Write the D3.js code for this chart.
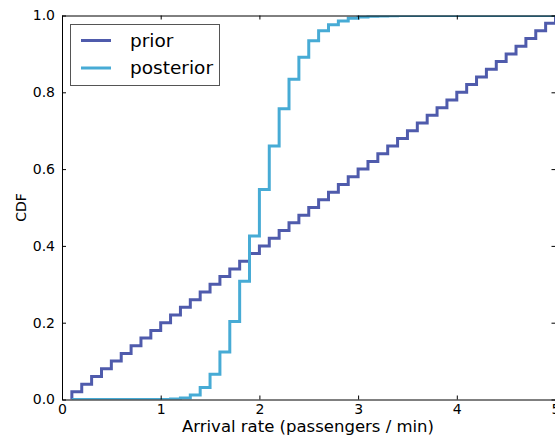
<!DOCTYPE html>
<html>
<head>
<meta charset="utf-8">
<script src="https://cdn.jsdelivr.net/npm/d3@7"></script>
<style>
html,body{margin:0;padding:0;background:#fff;}
svg{display:block;}
text{font-family:"DejaVu Sans",sans-serif;fill:#000;}
</style>
</head>
<body>
<svg id="chart" width="555" height="439"></svg>
<script>
// Data
const xs = [0.1,0.2,0.3,0.4,0.5,0.6,0.7,0.8,0.9,1.0,1.1,1.2,1.3,1.4,1.5,1.6,1.7,1.8,1.9,2.0,
            2.1,2.2,2.3,2.4,2.5,2.6,2.7,2.8,2.9,3.0,3.1,3.2,3.3,3.4,3.5,3.6,3.7,3.8,3.9,4.0,
            4.1,4.2,4.3,4.4,4.5,4.6,4.7,4.8,4.9,5.0];
const priorCdf = [0.02,0.04,0.06,0.08,0.10,0.12,0.14,0.16,0.18,0.20,0.22,0.24,0.26,0.28,0.30,0.32,0.34,0.36,0.38,0.40,
                  0.42,0.44,0.46,0.48,0.50,0.52,0.54,0.56,0.58,0.60,0.62,0.64,0.66,0.68,0.70,0.72,0.74,0.76,0.78,0.80,
                  0.82,0.84,0.86,0.88,0.90,0.92,0.94,0.96,0.98,1.00];
const posteriorCdf = [0,0,0,0,0,0,0,0,0,0.0003,0.001,0.004,0.012,0.031,0.066,0.124,0.203,0.308,0.426,0.547,
                      0.660,0.757,0.834,0.891,0.934,0.960,0.976,0.986,0.993,0.996,0.998,0.999,0.9995,0.9997,0.9998,0.9999,0.9999,1,1,1,
                      1,1,1,1,1,1,1,1,1,1];
const seriesNames = ["prior","posterior"];
const seriesColors = ["#4F5BAC","#47ABD5"];
const xTicks = [0,1,2,3,4,5];
const yTicks = [0,0.2,0.4,0.6,0.8,1.0];

const svg = d3.select("#chart");
const L = 62, R = 555.5, T = 15.5, B = 399.5;
const x = d3.scaleLinear().domain([0,5]).range([L,R]);
const y = d3.scaleLinear().domain([0,1]).range([B,T]);

svg.append("defs").append("clipPath").attr("id","clip")
  .append("rect").attr("x",L).attr("y",T).attr("width",R-L).attr("height",B-T);

const line = d3.line().x(d=>x(d[0])).y(d=>y(d[1])).curve(d3.curveStepAfter);
const series = [priorCdf, posteriorCdf];
series.forEach((vals,i)=>{
  const pts = [[xs[0],0]].concat(xs.map((v,j)=>[v,vals[j]]));
  svg.append("path").attr("d",line(pts)).attr("fill","none")
    .attr("stroke",seriesColors[i]).attr("stroke-width",3)
    .attr("clip-path","url(#clip)");
});

// Axes (matplotlib classic: inward ticks on all sides)
const fmtY = d3.format(".1f");
const gB = svg.append("g").attr("transform",`translate(0,${B})`)
  .call(d3.axisBottom(x).tickValues(xTicks).tickFormat(d3.format("d")).tickSizeInner(-4).tickSizeOuter(0).tickPadding(5));
const gT = svg.append("g").attr("transform",`translate(0,${T})`)
  .call(d3.axisTop(x).tickValues(xTicks).tickFormat("").tickSizeInner(-4).tickSizeOuter(0));
const gL = svg.append("g").attr("transform",`translate(${L},0)`)
  .call(d3.axisLeft(y).tickValues(yTicks).tickFormat(fmtY).tickSizeInner(-4).tickSizeOuter(0).tickPadding(7));
const gR = svg.append("g").attr("transform",`translate(${R},0)`)
  .call(d3.axisRight(y).tickValues(yTicks).tickFormat("").tickSizeInner(-4).tickSizeOuter(0));
[gB,gT,gL,gR].forEach(g=>{
  g.select(".domain").attr("stroke","#000").attr("stroke-width",1);
  g.selectAll(".tick line").attr("stroke","#000").attr("stroke-width",1);
  g.selectAll("text").attr("font-family","DejaVu Sans").attr("font-size",14).attr("fill","#000");
});

// Axis labels
svg.append("text").attr("x",308).attr("y",432).attr("text-anchor","middle")
  .attr("font-size",16.5).text("Arrival rate (passengers / min)");
svg.append("text").attr("transform",`translate(26,${(T+B)/2}) rotate(-90)`).attr("text-anchor","middle")
  .attr("font-size",14).text("CDF");

// Legend
const lg = svg.append("g");
lg.append("rect").attr("x",70.5).attr("y",24.5).attr("width",149).attr("height",61)
  .attr("fill","#fff").attr("stroke","#555").attr("stroke-width",1);
seriesNames.forEach((n,i)=>{
  const yy = 40.5 + i*27.5;
  lg.append("line").attr("x1",81).attr("x2",111).attr("y1",yy).attr("y2",yy)
    .attr("stroke",seriesColors[i]).attr("stroke-width",3);
  lg.append("text").attr("x",130).attr("y",yy+6.3).attr("font-size",18.5).text(n);
});
</script>
</body>
</html>
